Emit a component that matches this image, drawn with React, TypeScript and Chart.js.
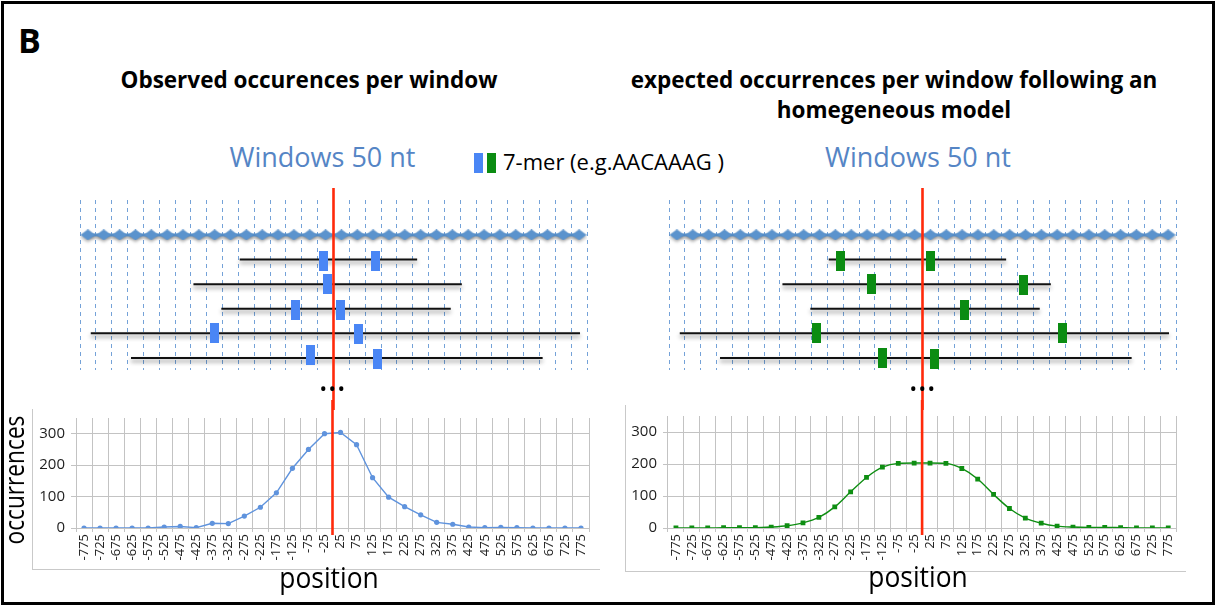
import React, { useEffect, useRef } from "react";
import { Chart, registerables } from "chart.js";

Chart.register(...registerables);

// ---------- data ----------
const POSITION_LABELS = [
  "-775", "-725", "-675", "-625", "-575", "-525", "-475", "-425", "-375", "-325",
  "-275", "-225", "-175", "-125", "-75", "-25", "25", "75", "125", "175",
  "225", "275", "325", "375", "425", "475", "525", "575", "625", "675", "725", "775",
];
const OBSERVED = [
  0, 0, 0, 0, 0, 3, 5, 1, 15, 14, 38, 66, 112, 190, 250, 300,
  304, 265, 160, 98, 68, 42, 18, 12, 3, 1, 2, 1, 0, 0, 0, 0,
];
const EXPECTED = [
  0, 0, 0, 1, 1, 1, 3, 7, 16, 33, 66, 113, 158, 190, 202, 203,
  203, 202, 186, 153, 105, 61, 31, 15, 6, 3, 2, 2, 1, 0, 0, 0,
];
const Y_TICKS = [0, 100, 200, 300];
const WINDOW_SIZE = 50;

// sequences (nt coordinates relative to the site)
const SEQ_ROW = [1, 2, 3, 4, 5];
const SEQ_START = [-296, -442, -354, -766, -639];
const SEQ_END = [264, 405, 370, 778, 660];

// 7-mer occurrences
const OBS_MOTIF_X = [-31, 131, -19, -120, 23, -377, 80, -72, 140];
const OBS_MOTIF_ROW = [1.04, 1.04, 2, 3.04, 3.04, 4, 4.04, 4.88, 5.04];
const EXP_MOTIF_X = [-260, 25, -160, 319, 132, -333, 443, -127, 37];
const EXP_MOTIF_ROW = [1.04, 1.04, 2, 2.04, 3.04, 4, 4, 5, 5.04];

// ---------- derived ----------
const WINDOW_CENTERS = POSITION_LABELS.map(Number);
const BOUNDARIES = [WINDOW_CENTERS[0] - WINDOW_SIZE / 2, ...WINDOW_CENTERS.map((c) => c + WINDOW_SIZE / 2)];
const X_MIN = BOUNDARIES[0];
const X_MAX = BOUNDARIES[BOUNDARIES.length - 1];

// ---------- styles ----------
const FONT = "'Open Sans', 'DejaVu Sans', sans-serif";
const RED = "#ff2a0a";
const GRID = "#c3c3c3";
const BLUE_MOTIF = "#4a86f5";
const GREEN_MOTIF = "#0b8c12";
const CHAIN = "#5b93cd";

function makeRect(w: number, h: number, color: string) {
  const c = document.createElement("canvas");
  c.width = w;
  c.height = h;
  const g = c.getContext("2d")!;
  g.fillStyle = color;
  g.fillRect(0, 0, w, h);
  return c;
}

function makeDiamond(w: number, h: number, color: string) {
  const c = document.createElement("canvas");
  c.width = w;
  c.height = h;
  const g = c.getContext("2d")!;
  g.fillStyle = color;
  g.beginPath();
  g.moveTo(0, h / 2);
  g.lineTo(w / 2, 0);
  g.lineTo(w, h / 2);
  g.lineTo(w / 2, h);
  g.closePath();
  g.fill();
  return c;
}

const shadowPlugin = {
  id: "dsShadow",
  beforeDatasetDraw(chart: any, args: any) {
    const ds = chart.data.datasets[args.index];
    if (ds && ds.shadowColor) {
      const ctx = chart.ctx;
      ctx.save();
      ctx.shadowColor = ds.shadowColor;
      ctx.shadowBlur = ds.shadowBlur ?? 3;
      ctx.shadowOffsetY = ds.shadowOffsetY ?? 2;
      ctx.shadowOffsetX = 0;
    }
  },
  afterDatasetDraw(chart: any, args: any) {
    const ds = chart.data.datasets[args.index];
    if (ds && ds.shadowColor) chart.ctx.restore();
  },
};

type DiagramProps = { left: number; top: number; motifX: number[]; motifRow: number[]; motifColor: string };

function Diagram({ left, top, motifX, motifRow, motifColor }: DiagramProps) {
  const ref = useRef<HTMLCanvasElement>(null);
  const W = 546;
  const H = 222;
  useEffect(() => {
    const rect = makeRect(9, 20, motifColor);
    const diamond = makeDiamond(15, 11, CHAIN);
    const datasets: any[] = [];
    datasets.push({
      data: [{ x: 0, y: -20 }, { x: 0, y: 40 }],
      showLine: true,
      borderColor: RED,
      borderWidth: 2.6,
      pointRadius: 0,
      clip: false,
      order: 0,
    });
    datasets.push({
      data: motifX.map((x, i) => ({ x, y: motifRow[i] })),
      pointStyle: rect,
      pointRadius: 6,
      showLine: false,
      order: 1,
    });
    SEQ_ROW.forEach((row, i) => {
      datasets.push({
        data: [{ x: SEQ_START[i], y: row }, { x: SEQ_END[i], y: row }],
        showLine: true,
        borderColor: "#111111",
        borderWidth: 2,
        pointRadius: 0,
        order: 2,
        shadowColor: "rgba(0,0,0,0.45)",
        shadowBlur: 4,
        shadowOffsetY: 3,
      });
    });
    datasets.push({
      data: WINDOW_CENTERS.map((x) => ({ x, y: 0 })),
      showLine: true,
      borderColor: CHAIN,
      borderWidth: 3,
      pointStyle: diamond,
      pointRadius: 6,
      order: 3,
      shadowColor: "rgba(0,0,0,0.3)",
      shadowBlur: 3,
      shadowOffsetY: 2,
    });
    const chart = new Chart(ref.current!, {
      type: "scatter",
      data: { datasets },
      plugins: [shadowPlugin],
      options: {
        responsive: false,
        animation: false,
        devicePixelRatio: 1,
        events: [],
        layout: { padding: { left: 20, right: 19, top: 12, bottom: 40 } },
        plugins: { legend: { display: false }, tooltip: { enabled: false } },
        scales: {
          x: {
            type: "linear",
            min: X_MIN,
            max: X_MAX,
            afterBuildTicks: (s: any) => {
              s.ticks = BOUNDARIES.map((v) => ({ value: v }));
            },
            ticks: { display: false },
            grid: { color: "#74a2d8", lineWidth: 1, drawTicks: false },
            border: { display: false, dash: [4, 4] },
          },
          y: { type: "linear", reverse: true, min: -1.42, max: 5.49, display: false },
        },
      } as any,
    });
    return () => chart.destroy();
  }, []);
  return (
    <canvas
      ref={ref}
      width={W}
      height={H}
      style={{ position: "absolute", left, top, width: W, height: H }}
    />
  );
}

type ProfileProps = {
  left: number;
  top: number;
  width: number;
  height: number;
  padTop: number;
  padRight: number;
  yWidth: number;
  xHeight: number;
  values: number[];
  color: string;
  smooth: boolean;
  pointStyle: string;
  pointRadius: number;
};

function Profile(p: ProfileProps) {
  const ref = useRef<HTMLCanvasElement>(null);
  useEffect(() => {
    const chart = new Chart(ref.current!, {
      type: "line",
      data: {
        labels: POSITION_LABELS,
        datasets: [
          {
            type: "line",
            xAxisID: "xr",
            yAxisID: "y",
            data: [{ x: 0, y: -22 }, { x: 0, y: 1000 }],
            borderColor: RED,
            borderWidth: 2.6,
            pointRadius: 0,
            clip: false,
            order: 0,
          },
          {
            data: p.values,
            borderColor: p.color,
            backgroundColor: p.color,
            borderWidth: 1.4,
            pointStyle: p.pointStyle,
            pointRadius: p.pointRadius,
            pointBorderWidth: 0,
            tension: p.smooth ? 0.4 : 0,
            cubicInterpolationMode: p.smooth ? "monotone" : "default",
            order: 1,
          },
        ],
      } as any,
      options: {
        responsive: false,
        animation: false,
        devicePixelRatio: 1,
        events: [],
        layout: { padding: { top: p.padTop, right: p.padRight, left: 0, bottom: 0 } },
        plugins: { legend: { display: false }, tooltip: { enabled: false } },
        scales: {
          x: {
            type: "category",
            offset: true,
            grid: { offset: true, color: GRID, lineWidth: 1, tickLength: 4 },
            border: { display: false },
            ticks: {
              autoSkip: false,
              minRotation: 90,
              maxRotation: 90,
              padding: 2,
              color: "#1e1e1e",
              font: { family: FONT, size: 13 },
            },
            afterFit: (s: any) => {
              s.height = p.xHeight;
            },
          },
          xr: { type: "linear", axis: "x", display: false, min: X_MIN, max: X_MAX },
          y: {
            min: 0,
            max: 350,
            afterBuildTicks: (s: any) => {
              s.ticks = Y_TICKS.map((v) => ({ value: v }));
            },
            grid: { color: GRID, lineWidth: 1, tickLength: 5 },
            border: { display: false },
            ticks: { color: "#1e1e1e", padding: 6, font: { family: FONT, size: 15 } },
            afterFit: (s: any) => {
              s.width = p.yWidth;
            },
          },
        },
      } as any,
    });
    return () => chart.destroy();
  }, []);
  return (
    <canvas
      ref={ref}
      width={p.width}
      height={p.height}
      style={{ position: "absolute", left: p.left, top: p.top, width: p.width, height: p.height }}
    />
  );
}

const abs = (s: React.CSSProperties): React.CSSProperties => ({ position: "absolute", ...s });

export default function App() {
  return (
    <div
      style={abs({
        left: 0,
        top: 0,
        width: 1216,
        height: 606,
        background: "#fff",
        fontFamily: FONT,
        color: "#000",
        overflow: "hidden",
      })}
    >
      {/* outer frame */}
      <div style={abs({ left: 1, top: 1, width: 1214, height: 604, border: "3px solid #000", boxSizing: "border-box" })} />

      <div style={abs({ left: 18, top: 23, fontSize: 34, lineHeight: "34px", fontWeight: 700 })}>B</div>

      <div style={abs({ left: 0, top: 69, width: 618, textAlign: "center", fontSize: 22.5, lineHeight: "22.5px", fontWeight: 700, whiteSpace: "nowrap" })}>
        Observed occurences per window
      </div>
      <div style={abs({ left: 594, top: 65, width: 600, textAlign: "center", fontSize: 22.5, lineHeight: "30px", fontWeight: 700, whiteSpace: "nowrap" })}>
        expected occurrences per window following an
        <br />
        homegeneous model
      </div>

      <div style={abs({ left: 172, top: 143, width: 301, textAlign: "center", fontSize: 27, lineHeight: "27px", color: "#5585c5", whiteSpace: "nowrap" })}>
        Windows 50 nt
      </div>
      <div style={abs({ left: 768, top: 143, width: 300, textAlign: "center", fontSize: 27, lineHeight: "27px", color: "#5585c5", whiteSpace: "nowrap" })}>
        Windows 50 nt
      </div>

      {/* legend */}
      <div style={abs({ left: 474, top: 153, width: 9, height: 20, background: BLUE_MOTIF })} />
      <div style={abs({ left: 487, top: 153, width: 9, height: 20, background: GREEN_MOTIF })} />
      <div style={abs({ left: 503, top: 150, fontSize: 22, lineHeight: "22px", whiteSpace: "nowrap" })}>7-mer (e.g.AACAAAG )</div>

      {/* diagrams */}
      <Diagram left={60} top={188} motifX={OBS_MOTIF_X} motifRow={OBS_MOTIF_ROW} motifColor={BLUE_MOTIF} />
      <Diagram left={649} top={188} motifX={EXP_MOTIF_X} motifRow={EXP_MOTIF_ROW} motifColor={GREEN_MOTIF} />

      <div style={abs({ left: 283, top: 379, width: 100, textAlign: "center", fontSize: 20, lineHeight: "20px", letterSpacing: 1.5 })}>•••</div>
      <div style={abs({ left: 873, top: 379, width: 100, textAlign: "center", fontSize: 20, lineHeight: "20px", letterSpacing: 1.5 })}>•••</div>

      {/* chart frames */}
      <div style={abs({ left: 32, top: 409, width: 568, height: 161, borderLeft: "1px solid #c9c9c9", borderBottom: "1px solid #c9c9c9", boxSizing: "border-box" })} />
      <div style={abs({ left: 625, top: 405, width: 561, height: 167, borderLeft: "1px solid #c9c9c9", borderBottom: "1px solid #c9c9c9", boxSizing: "border-box" })} />

      <Profile
        left={32}
        top={400}
        width={568}
        height={170}
        padTop={18}
        padRight={11}
        yWidth={44}
        xHeight={42}
        values={OBSERVED}
        color="#5f93dd"
        smooth={false}
        pointStyle="circle"
        pointRadius={2.6}
      />
      <Profile
        left={625}
        top={400}
        width={561}
        height={172}
        padTop={16}
        padRight={9}
        yWidth={43}
        xHeight={44}
        values={EXPECTED}
        color="#0e8e12"
        smooth={true}
        pointStyle="rect"
        pointRadius={3.4}
      />

      {/* axis titles */}
      <div
        style={abs({
          left: -86,
          top: 460,
          width: 200,
          height: 40,
          textAlign: "center",
          fontSize: 27,
          lineHeight: "40px",
          transform: "rotate(-90deg) scaleX(0.84)",
          whiteSpace: "nowrap",
        })}
      >
        occurrences
      </div>
      <div style={abs({ left: 229, top: 562, width: 200, textAlign: "center", fontSize: 29, lineHeight: "29px", transform: "scaleX(0.91)" })}>
        position
      </div>
      <div style={abs({ left: 818, top: 561, width: 200, textAlign: "center", fontSize: 29, lineHeight: "29px", transform: "scaleX(0.91)" })}>
        position
      </div>
    </div>
  );
}
